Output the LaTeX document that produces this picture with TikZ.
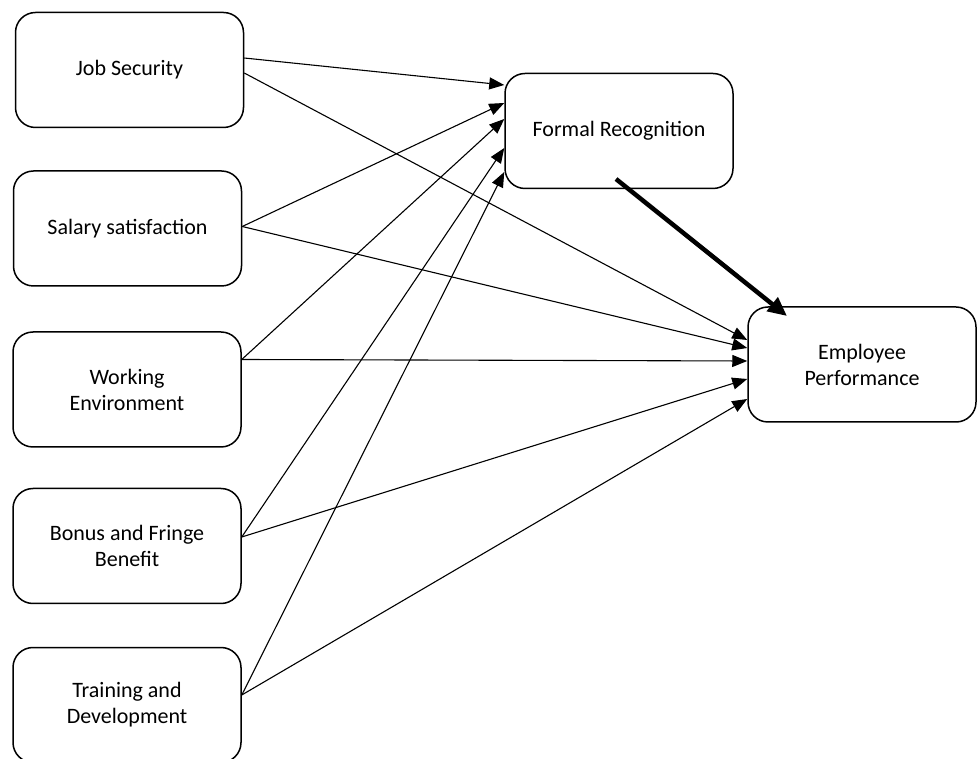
\documentclass[tikz,border=0pt]{standalone}
\usepackage{fontspec}
\setmainfont{Carlito}
\usetikzlibrary{arrows.meta}

\begin{document}
\begin{tikzpicture}[x=1pt,y=1pt,
  factor/.style={draw,line width=1.5pt,rounded corners=20pt,minimum width=228pt,minimum height=115pt,align=center,font=\fontsize{22}{26}\selectfont},
  link/.style={line width=1.1pt,-{Triangle[length=15pt,width=12pt]}},
  mainlink/.style={line width=4.5pt,-{Triangle[length=19pt,width=17pt]}}]
\useasboundingbox (0,0) rectangle (977,758);
\node[factor] (js) at (129.5,688) {Job Security};
\node[factor] (ss) at (127.5,529.5) {Salary satisfaction};
\node[factor] (we) at (127,368.5) {Working\\Environment};
\node[factor] (bf) at (127,212) {Bonus and Fringe\\Benefit};
\node[factor] (td) at (127,53) {Training and\\Development};
\node[factor] (fr) at (619,627) {Formal Recognition};
\node[factor] (ep) at (862,393.5) {Employee\\Performance};
% to formal recognition
\draw[link] ([yshift=12pt]js.east) -- ([yshift=46pt]fr.west);
\draw[link] ([yshift=2pt]ss.east) -- ([yshift=28pt]fr.west);
\draw[link] ([yshift=30pt]we.east) -- ([yshift=12pt]fr.west);
\draw[link] ([yshift=9pt]bf.east) -- ([yshift=-17pt]fr.west);
\draw[link] ([yshift=10pt]td.east) -- ([yshift=-41pt]fr.west);
% to employee performance
\draw[link] ([yshift=-3pt]js.east) -- ([yshift=24.5pt]ep.west);
\draw[link] ([yshift=2pt]ss.east) -- ([yshift=16.5pt]ep.west);
\draw[link] ([yshift=30pt]we.east) -- ([yshift=3.5pt]ep.west);
\draw[link] ([yshift=9pt]bf.east) -- ([yshift=-14.5pt]ep.west);
\draw[link] ([yshift=10pt]td.east) -- ([yshift=-34.5pt]ep.west);
% mediator
\draw[mainlink] ([shift={(-3pt,-48pt)}]fr.center) -- ([shift={(-75pt,48.5pt)}]ep.center);
\end{tikzpicture}
\end{document}
